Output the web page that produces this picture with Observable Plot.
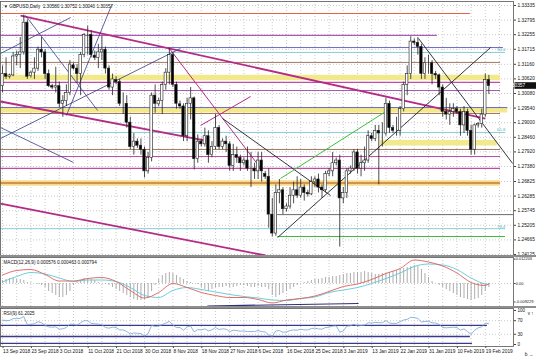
<!DOCTYPE html>
<html><head><meta charset="utf-8">
<script src="https://cdn.jsdelivr.net/npm/d3@7"></script>
<script src="https://cdn.jsdelivr.net/npm/@observablehq/plot@0.6"></script>
<style>
body{margin:0;background:#fff;}
#wrap{position:relative;width:536px;height:358px;overflow:hidden;background:#fff;font-family:"Liberation Sans",Arial,sans-serif;}
#wrap > div{position:absolute;left:0;}
.sep{height:2px;width:536px;background:#8e8e8e;}
svg{display:block;}
</style></head><body><div id="wrap">
<div id="main" style="top:0"></div>
<div id="macd" style="top:257px"></div>
<div id="rsi" style="top:308px"></div>
<div class="sep" style="top:255px"></div>
<div class="sep" style="top:306px"></div>
</div>
<script>
// ---------- DATA ----------
const titleText = "\u25BC GBPUSD,Daily  1.30580 1.30752 1.30040 1.30357";
const open = [1.3035,1.3080,1.3070,1.3075,1.3145,1.3150,1.3160,1.3270,1.3072,1.3085,1.3100,1.3170,1.3160,1.3080,1.3035,1.3030,1.3035,1.2970,1.2980,1.3010,
1.3112,1.3100,1.3080,1.3150,1.3225,1.3225,1.3148,1.3140,1.3160,1.3170,1.3100,1.3030,1.3058,1.3050,1.2970,1.2970,1.2900,1.2810,1.2830,1.2815,
1.2800,1.2720,1.2770,1.3000,1.2968,1.2980,1.3040,1.3085,1.3150,1.3040,1.2968,1.2960,1.2850,1.2970,1.2990,1.2765,1.2830,1.2820,1.2850,1.2780,
1.2810,1.2880,1.2810,1.2830,1.2820,1.2740,1.2780,1.2770,1.2750,1.2760,1.2730,1.2730,1.2720,1.2760,1.2710,1.2700,1.2560,1.2490,1.2640,1.2650,
1.2580,1.2590,1.2630,1.2650,1.2630,1.2660,1.2640,1.2635,1.2680,1.2690,1.2660,1.2650,1.2710,1.2720,1.2750,1.2760,1.2620,1.2640,1.2720,1.2730,
1.2790,1.2730,1.2750,1.2760,1.2850,1.2840,1.2870,1.2860,1.2860,1.2970,1.2880,1.2870,1.2870,1.2950,1.3040,1.3080,1.3200,1.3195,1.3180,1.3080,
1.3120,1.3120,1.3080,1.3075,1.3030,1.2940,1.2930,1.2940,1.2950,1.2940,1.2890,1.2940,1.2870,1.2800,1.2890,1.2895,1.2930,1.3058];
const high = [1.3110,1.3140,1.3080,1.3160,1.3165,1.3215,1.3298,1.3280,1.3090,1.3140,1.3180,1.3215,1.3170,1.3095,1.3042,1.3105,1.3050,1.3000,1.3040,1.3130,
1.3120,1.3115,1.3160,1.3230,1.3257,1.3240,1.3165,1.3190,1.3220,1.3180,1.3110,1.3080,1.3070,1.3060,1.3010,1.3000,1.2920,1.2860,1.2840,1.2840,
1.2810,1.2790,1.3010,1.3040,1.2990,1.3050,1.3100,1.3175,1.3160,1.3050,1.2980,1.2970,1.2990,1.3030,1.2995,1.2855,1.2840,1.2880,1.2870,1.2830,
1.2930,1.2890,1.2840,1.2850,1.2830,1.2820,1.2810,1.2780,1.2770,1.2810,1.2790,1.2750,1.2790,1.2790,1.2720,1.2730,1.2620,1.2670,1.2690,1.2660,
1.2600,1.2660,1.2680,1.2700,1.2690,1.2670,1.2650,1.2700,1.2700,1.2710,1.2670,1.2720,1.2730,1.2790,1.2770,1.2780,1.2660,1.2730,1.2740,1.2800,
1.2800,1.2780,1.2810,1.2870,1.2860,1.2890,1.2890,1.2900,1.2990,1.2980,1.2890,1.2920,1.2960,1.3050,1.3110,1.3218,1.3210,1.3215,1.3190,1.3140,
1.3150,1.3130,1.3090,1.3080,1.3040,1.2990,1.2970,1.2970,1.2960,1.2950,1.2960,1.2950,1.2890,1.2895,1.2900,1.2950,1.3080,1.30752];
const low = [1.3010,1.3060,1.3062,1.3070,1.3110,1.3100,1.3150,1.3060,1.3065,1.3060,1.3090,1.3140,1.3060,1.3030,1.3022,1.3010,1.2955,1.2920,1.2960,1.3000,
1.3095,1.3045,1.3000,1.3140,1.3150,1.3140,1.3130,1.3100,1.3130,1.3080,1.3020,1.3000,1.3040,1.2960,1.2930,1.2880,1.2800,1.2780,1.2805,1.2780,
1.2696,1.2710,1.2755,1.2935,1.2960,1.2930,1.3020,1.3040,1.3030,1.2950,1.2950,1.2830,1.2830,1.2910,1.2725,1.2750,1.2810,1.2810,1.2750,1.2770,
1.2800,1.2800,1.2800,1.2790,1.2720,1.2720,1.2750,1.2720,1.2740,1.2720,1.2660,1.2690,1.2690,1.2680,1.2690,1.2510,1.2477,1.2480,1.2600,1.2560,
1.2570,1.2580,1.2600,1.2620,1.2620,1.2610,1.2625,1.2630,1.2660,1.2640,1.2620,1.2640,1.2700,1.2700,1.2740,1.2440,1.2600,1.2620,1.2710,1.2720,
1.2710,1.2700,1.2720,1.2750,1.2830,1.2830,1.2670,1.2810,1.2850,1.2860,1.2860,1.2850,1.2850,1.2940,1.3000,1.3060,1.3185,1.3150,1.3060,1.3060,
1.3080,1.3040,1.3060,1.3000,1.2920,1.2910,1.2890,1.2920,1.2930,1.2850,1.2860,1.2850,1.2780,1.2780,1.2880,1.2880,1.2920,1.3004];
const close = [1.3080,1.3070,1.3075,1.3145,1.3150,1.3160,1.3270,1.3070,1.3085,1.3100,1.3170,1.3160,1.3080,1.3035,1.3030,1.3035,1.2970,1.2980,1.3010,1.3115,
1.3100,1.3080,1.3150,1.3225,1.3225,1.3150,1.3140,1.3160,1.3170,1.3100,1.3030,1.3060,1.3050,1.2970,1.2970,1.2900,1.2810,1.2830,1.2815,1.2800,
1.2720,1.2770,1.3000,1.2970,1.2980,1.3040,1.3085,1.3150,1.3040,1.2970,1.2960,1.2850,1.2970,1.2990,1.2765,1.2830,1.2820,1.2850,1.2780,1.2810,
1.2880,1.2810,1.2830,1.2820,1.2740,1.2780,1.2770,1.2750,1.2760,1.2730,1.2730,1.2720,1.2760,1.2720,1.2700,1.2560,1.2490,1.2640,1.2650,1.2580,
1.2590,1.2630,1.2650,1.2630,1.2660,1.2640,1.2635,1.2680,1.2690,1.2660,1.2650,1.2710,1.2720,1.2750,1.2760,1.2620,1.2640,1.2720,1.2730,1.2790,
1.2730,1.2750,1.2760,1.2850,1.2840,1.2870,1.2860,1.2860,1.2970,1.2880,1.2870,1.2870,1.2950,1.3040,1.3080,1.3200,1.3195,1.3180,1.3080,1.3120,
1.3120,1.3080,1.3075,1.3030,1.2940,1.2930,1.2940,1.2950,1.2940,1.2890,1.2940,1.2870,1.2800,1.2890,1.2895,1.2930,1.3058,1.30357];

const priceTickLabels = ["1.33335","1.32795","1.32255","1.31715","1.31160","1.30620","1.30080","1.29540","1.29000","1.28460","1.27920","1.27380","1.26825","1.26285","1.25745","1.25205","1.24665","1.24125"];
const dateLabels = ["13 Sep 2018","23 Sep 2018","3 Oct 2018","11 Oct 2018","21 Oct 2018","30 Oct 2018","8 Nov 2018","18 Nov 2018","27 Nov 2018","6 Dec 2018","16 Dec 2018","25 Dec 2018","3 Jan 2019","13 Jan 2019","22 Jan 2019","31 Jan 2019","10 Feb 2019","19 Feb 2019"];
const dateBars = [0,8,16,24,32,40,48,56,64,72,80,88,96,104,112,120,128,136];

// horizontal levels drawn on the price chart (price, start bar a, end bar b)
const redLevels = [{p:1.3304, b:131.8}];
const purpleLevels = [{p:1.3223, b:122.5}, {p:1.3019, b:140.3}];
const blueLevels = [{p:1.3178, b:141.1}, {p:1.2956, b:142.3}];
const brownLevels = [{p:1.3123, b:140.3}, {p:1.2934, b:140.3}, {p:1.2801, b:140.3}];
const magentaLevels = [{p:1.3049, b:140.3}, {p:1.2775, b:140.3}, {p:1.2731, b:140.3}];
const yellowBands = [{p:1.3067, b:140.3}, {p:1.2948, b:142.3}, {p:1.2826, a:106.5, b:139.4}];
const orangeLevels = [{p:1.2677, b:140.3}];
const grayLevels = [{p:1.2560, a:77.5, b:144}];
const greenLevels = [{p:1.2479, a:77.5, b:141.7}];
const fibLevels = [{p:1.3160, b:141.7, label:"50.0"}, {p:1.2864, b:141.7, label:"61.8"}, {p:1.2508, b:141.7, label:"76.4"}];

// trend lines (bar index, price)
const thickMagentaLines = [
  {x1:5.1, y1:1.32965, x2:136, y2:1.29155},
  {x1:-0.56, y1:1.29784, x2:57.2, y2:1.28341},
  {x1:-0.56, y1:1.26011, x2:74.1, y2:1.24088}];
const thinMagentaLines = [
  {x1:46.8, y1:1.31782, x2:73.2, y2:1.27232},
  {x1:55.8, y1:1.28896, x2:69.9, y2:1.29969}];
const navyLines = [
  {x1:-0.56, y1:1.31559, x2:19.2, y2:1.32891},
  {x1:6.5, y1:1.32965, x2:26.8, y2:1.29451},
  {x1:18.0, y1:1.29266, x2:30.7, y2:1.33335},
  {x1:-0.56, y1:1.28415, x2:50.1, y2:1.31744},
  {x1:-0.56, y1:1.28822, x2:20, y2:1.27528}];
const blackLines = [
  {x1:77.5, y1:1.24753, x2:137.5, y2:1.31782},
  {x1:117.2, y1:1.32114, x2:143.7, y2:1.27491},
  {x1:62, y1:1.29155, x2:92.4, y2:1.26307}];
const greenLines = [{x1:78.3, y1:1.26936, x2:109.3, y2:1.29525}];

// MACD
const macdTitle = "MACD(12,26,9) 0.000576 0.000463 0.000794";
const macdHist = [0.0015,0.002,0.0025,0.0025,0.002,0.002,0.0015,
0.0005,0.0003,0,-0.0005,-0.001,
-0.002,-0.004,-0.005,-0.006,-0.007,-0.007,-0.006,-0.004,
-0.001,0.0005,0.0015,0.0025,0.0025,0.002,0.0015,0.0005,
0,-0.0005,
-0.001,-0.002,-0.003,-0.004,-0.005,-0.006,-0.007,-0.008,-0.0085,-0.0085,-0.008,-0.007,
-0.004,-0.001,0.002,
0.004,0.005,0.0055,0.005,0.004,0.003,
0.002,0.001,0.0005,0,-0.0005,
-0.002,-0.003,-0.004,-0.003,-0.002,
-0.002,-0.002,-0.0015,-0.002,-0.002,-0.0015,-0.001,-0.001,-0.0015,-0.002,-0.002,-0.0015,-0.002,-0.002,-0.003,
-0.006,-0.007,-0.006,-0.005,-0.004,-0.003,-0.002,-0.001,0,
0.0005,0.001,0.0015,0.002,0.002,0.0025,0.003,0.003,0.0035,0.0035,0.004,0.0045,0.005,0.005,0.0055,0.0055,0.0055,0.006,0.0055,0.005,0.0045,0.0045,0.005,0.005,0.0055,0.006,0.0065,0.007,0.0075,0.008,0.0085,0.009,0.0085,0.007,0.005,0.003,
0.001,0,-0.001,
-0.002,-0.003,-0.004,-0.005,-0.006,-0.007,-0.0075,-0.008,-0.0085,-0.008,-0.0075,-0.006,-0.004,
-0.002];
const macdBars = [0,4,8,12,16,20,24,28,32,36,40,44,48,52,56,60,64,68,72,76,80,84,88,92,96,100,104,108,112,116,120,124,128,132,136,137];
const macdMain = [0.00425,0.0065,0.007,0.0045,0.00125,0.00125,0.0025,0.003,0.001,-0.0035,-0.00725,-0.0045,0.0,-0.002,-0.0045,-0.006,-0.007,-0.007,-0.008,-0.00975,-0.00825,-0.0075,-0.00625,-0.004,-0.0015,-0.00025,0.002,0.005,0.0075,0.01175,0.01075,0.00875,0.00525,0.0005,-0.001,0.0];
const macdSignal = [0.00075,0.0035,0.0055,0.00475,0.00275,0.001,0.00175,0.00175,0.001,-0.002,-0.006,-0.007,-0.0035,-0.002,-0.003,-0.00425,-0.0055,-0.0065,-0.00725,-0.00825,-0.0085,-0.0075,-0.00675,-0.0045,-0.00325,-0.002,0.0,0.0025,0.00525,0.0085,0.00975,0.00925,0.007,0.00275,-0.00025,-0.0005];
const macdTickLabels = ["0.012203","0.00","-0.009229"];
const macdLines = [{x1:57.7, y1:-0.01125, x2:100.3, y2:-0.0100}];

// RSI
const rsiTitle = "RSI(9) 61.2025";
const rsi = [72,70,71,76,76,77,82,58,59,61,67,64,56,52,51,52,45,46,50,60,
59,57,64,70,70,62,61,60,58,50,48,51,50,43,43,38,31,34,33,32,
25,32,56,53,54,59,63,68,57,50,50,42,52,54,37,44,43,46,40,43,
50,44,46,45,38,42,41,39,40,38,38,38,41,38,37,28,24,40,41,36,
37,41,43,42,45,43,43,47,48,46,45,50,51,54,55,36,40,54,55,60,
54,56,57,64,63,65,64,64,70,63,62,62,67,72,74,80,79,77,66,68,
68,64,63,59,50,49,50,51,50,42,46,38,30,42,49,52,63,61];
const rsiTickLabels = ["100","70","30","0"];
const rsiLevels = [{v:56, b:136.6}, {v:23.5, b:131.8}, {v:3, b:132.4}];

// ---------- CHART ----------
const xDomain = [-0.563, 143.94];
const font = "Liberation Sans, Arial, sans-serif";
const gridStyle = {stroke:"#bdbdbd", strokeOpacity:1, strokeDasharray:"1,2", strokeWidth:0.8};
const gridBars = d3.range(0, 144, 4);
const bars = open.map((o,i) => ({i, o, h:high[i], l:low[i], c:close[i]}));
const priceTicks = priceTickLabels.map(Number);
const A = d => d.a ?? xDomain[0];
const level = (data, stroke, strokeWidth, extra={}) =>
  Plot.ruleY(data, {y:"p", x1:A, x2:"b", stroke, strokeWidth, ...extra});
const seg = (data, stroke, strokeWidth) =>
  Plot.link(data, {x1:"x1", y1:"y1", x2:"x2", y2:"y2", stroke, strokeWidth, clip:true});

const main = Plot.plot({
  width:536, height:256, marginTop:1, marginBottom:1, marginLeft:0, marginRight:23,
  x:{domain:xDomain, axis:null},
  y:{domain:[1.24088, 1.33483], axis:null},
  style:{fontFamily:font, fontSize:"4.8px", background:"white", color:"#111"},
  marks:[
    Plot.gridY(priceTicks, gridStyle),
    Plot.gridX(gridBars, gridStyle),
    level(yellowBands, "#f2e98c", 5.5),
    level(orangeLevels, "#f5dc8a", 5.5),
    level(orangeLevels, "#c8783c", 1.6),
    level(redLevels, "#e2603f", 1),
    level(purpleLevels, "#a85cb8", 1.1),
    level(blueLevels, "#6c6cc4", 1),
    level(fibLevels, "#86cdd6", 1),
    level(brownLevels, "#a37862", 1),
    level(magentaLevels, "#c44aa8", 1.1),
    level(grayLevels, "#6a6a6a", 1),
    level(greenLevels, "#3cbf3c", 1.1),
    seg(thickMagentaLines, "#b52a86", 1.8),
    seg(thinMagentaLines, "#b52a86", 1),
    seg(navyLines, "#3a3a86", 0.8),
    seg(blackLines, "#1e1e2e", 0.9),
    seg(greenLines, "#3cbf3c", 1),
    Plot.ruleX(bars, {x:"i", y1:"l", y2:"h", stroke:"#222", strokeWidth:0.8}),
    Plot.rect(bars, {x1:d=>d.i-0.34, x2:d=>d.i+0.34, y1:"o", y2:"c",
      fill:d=>d.c>=d.o?"white":"black", stroke:"#222", strokeWidth:0.6}),
    Plot.text(fibLevels, {x:"b", y:"p", text:"label", textAnchor:"end", dy:-2.6, fill:"#5bb4c2", fontSize:4.4}),
    Plot.axisY(priceTicks, {anchor:"right", tickSize:2, tickPadding:2, tickFormat:d=>d.toFixed(5), fontSize:4.8, stroke:"#444"}),
    Plot.frame({stroke:"#555", strokeWidth:0.8}),
    Plot.text([titleText], {frameAnchor:"top-left", text:d=>d, dx:3, dy:3, lineAnchor:"top", textAnchor:"start", fill:"#111", fontSize:4.6})
  ]
});
document.getElementById("main").append(main);
{
  const ys = main.scale("y"), xs = main.scale("x");
  const yy = ys.apply(close[close.length-1]);
  const x0 = xs.range[1] + 1.5;
  const svg = d3.select(main);
  svg.append("rect").attr("x", x0).attr("y", yy-3.3).attr("width", 22).attr("height", 6.6).attr("fill", "#111");
  svg.append("text").attr("x", x0+2).attr("y", yy).attr("dy", "0.35em").attr("fill", "white")
     .attr("font-size", 4.8).attr("font-family", font).text(close[close.length-1].toFixed(5));
}

const macdTicks = macdTickLabels.map(Number);
const macdPlot = Plot.plot({
  width:536, height:49, marginTop:0, marginBottom:0, marginLeft:0, marginRight:23,
  x:{domain:xDomain, axis:null},
  y:{domain:[-0.0115, 0.0130], axis:null},
  style:{fontFamily:font, fontSize:"4.8px", background:"white", color:"#111"},
  marks:[
    Plot.gridX(gridBars, gridStyle),
    Plot.gridY([0], gridStyle),
    Plot.ruleX(macdHist, {x:(d,i)=>i, y1:0, y2:d=>d, stroke:"#a4a4a4", strokeWidth:0.9}),
    Plot.line(macdBars, {x:d=>d, y:(d,i)=>macdSignal[i], stroke:"#5ec6d6", strokeWidth:0.9, curve:"monotone-x"}),
    Plot.line(macdBars, {x:d=>d, y:(d,i)=>macdMain[i], stroke:"#dd5f5a", strokeWidth:0.9, curve:"monotone-x"}),
    Plot.link(macdLines, {x1:"x1", y1:"y1", x2:"x2", y2:"y2", stroke:"#2e2e78", strokeWidth:1.2}),
    Plot.axisY(macdTicks, {anchor:"right", tickSize:1.5, tickPadding:0.8, tickFormat:d=>macdTickLabels[macdTicks.indexOf(d)], fontSize:3.9, stroke:"#444"}),
    Plot.frame({stroke:"#555", strokeWidth:0.8}),
    Plot.text([macdTitle], {frameAnchor:"top-left", text:d=>d, dx:3, dy:3, lineAnchor:"top", textAnchor:"start", fill:"#111", fontSize:4.6})
  ]
});
document.getElementById("macd").append(macdPlot);

const rsiTicks = rsiTickLabels.map(Number);
const rsiPlot = Plot.plot({
  width:536, height:50, marginTop:0, marginBottom:12, marginLeft:0, marginRight:23,
  x:{domain:xDomain, axis:null},
  y:{domain:[-5.9, 105.9], axis:null},
  style:{fontFamily:font, fontSize:"4.8px", background:"white", color:"#111"},
  marks:[
    Plot.gridX(gridBars, gridStyle),
    Plot.gridY([30,70], gridStyle),
    Plot.ruleY(rsiLevels, {y:"v", x1:xDomain[0], x2:"b", stroke:"#3a3a8a", strokeWidth:1.3}),
    Plot.line(rsi, {x:(d,i)=>i, y:d=>d, stroke:"#6fa3d8", strokeWidth:0.8}),
    Plot.axisY(rsiTicks, {anchor:"right", tickSize:2, tickPadding:2, tickFormat:d=>String(d), fontSize:4.6, stroke:"#444"}),
    Plot.axisX(dateBars, {anchor:"bottom", tickSize:2, tickPadding:1.5, tickFormat:d=>dateLabels[dateBars.indexOf(d)], textAnchor:"start", dx:0.5, fontSize:4.8, stroke:"#444"}),
    Plot.frame({stroke:"#555", strokeWidth:0.8}),
    Plot.text([rsiTitle], {frameAnchor:"top-left", text:d=>d, dx:3, dy:3, lineAnchor:"top", textAnchor:"start", fill:"#111", fontSize:4.6})
  ]
});
document.getElementById("rsi").append(rsiPlot);
</script></body></html>
